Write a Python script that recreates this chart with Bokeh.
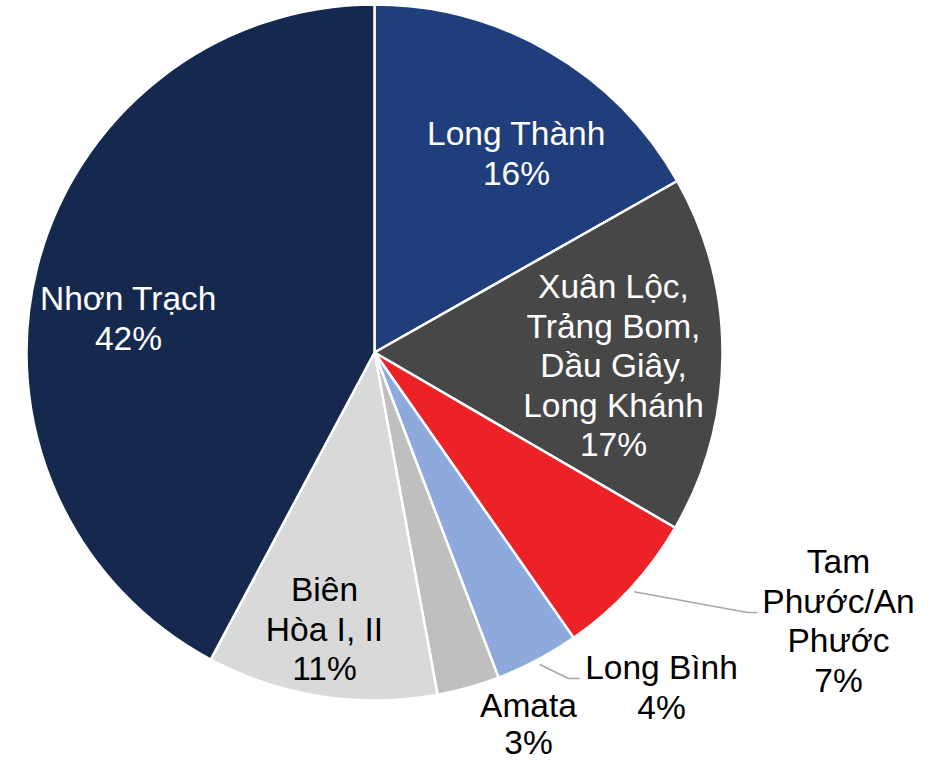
import math
from bokeh.plotting import figure
from bokeh.models import Range1d
from bokeh.core.properties import value
from bokeh.embed import file_html
from bokeh.resources import INLINE

# ---- data ----
categories = ["Long Thành", "Xuân Lộc, Trảng Bom, Dầu Giây, Long Khánh",
              "Tam Phước/An Phước", "Long Bình", "Amata", "Biên Hòa I, II", "Nhơn Trạch"]
shares = [16.8, 16.6, 6.9, 3.9, 2.9, 10.7, 42.2]
label_lines = [["Long Thành", "16%"],
               ["Xuân Lộc,", "Trảng Bom,", "Dầu Giây,", "Long Khánh", "17%"],
               ["Tam", "Phước/An", "Phước", "7%"],
               ["Long Bình", "4%"],
               ["Amata", "3%"],
               ["Biên", "Hòa I, II", "11%"],
               ["Nhơn Trạch", "42%"]]
colors = ["#1F3E7B", "#474747", "#EC2226", "#8EAADC", "#BFBFBF", "#D9D9D9", "#15284E"]
text_colors = ["white", "white", "black", "black", "black", "black", "white"]

# ---- layout (picture pixel coordinates) ----
W, H = 940, 763
CX, CY_IMG, R = 374, 352, 348
# label anchor: centre x, first-line baseline (image y)
label_anchor = [(516, 133), (613, 286), (838, 561), (661, 667), (528, 705), (324, 589), (128, 298)]
line_h = [39.5, 39.5, 39.5, 39.5, 37, 39.5, 39.5]
# leader lines: (elbow, end) in image coords
leaders = {2: ((747, 612), (757, 612)), 3: ((568, 678), (579, 678))}

def dy(yimg):
    return H - yimg

p = figure(width=W, height=H, output_backend="svg", toolbar_location=None,
           x_range=Range1d(0, W), y_range=Range1d(0, H),
           x_axis_type=None, y_axis_type=None, min_border=0,
           min_border_left=0, min_border_right=0, min_border_top=0, min_border_bottom=0)
p.outline_line_color = None
p.grid.visible = False
p.background_fill_color = "white"
p.border_fill_color = "white"

total = sum(shares)
cum = 0.0
starts, ends, mids = [], [], []
for s in shares:
    c0 = cum / total
    cum += s
    c1 = cum / total
    starts.append(math.pi / 2 - 2 * math.pi * c1)
    ends.append(math.pi / 2 - 2 * math.pi * c0)
    mids.append((c0 + c1) / 2)

p.wedge(x=[CX] * len(shares), y=[dy(CY_IMG)] * len(shares), radius=R,
        start_angle=starts, end_angle=ends, direction="anticlock",
        fill_color=colors, line_color="white", line_width=2.5)

for i, (elbow, end) in leaders.items():
    th = 2 * math.pi * mids[i]
    sx = CX + 353 * math.sin(th)
    sy = CY_IMG - 353 * math.cos(th)
    p.line(x=[sx, elbow[0], end[0]], y=[dy(sy), dy(elbow[1]), dy(end[1])],
           line_color="#A6A6A6", line_width=1.5)

xs, ys, ts, tc = [], [], [], []
for i, lines in enumerate(label_lines):
    ax, ay = label_anchor[i]
    for k, t in enumerate(lines):
        xs.append(ax)
        ys.append(dy(ay + k * line_h[i]))
        ts.append(t)
        tc.append(text_colors[i])
p.text(x=xs, y=ys, text=ts, text_color=tc, text_align="center",
       text_baseline="alphabetic", text_font=value("Liberation Sans"),
       text_font_size="33.5px")

open("out.html", "w").write(file_html(p, INLINE))
